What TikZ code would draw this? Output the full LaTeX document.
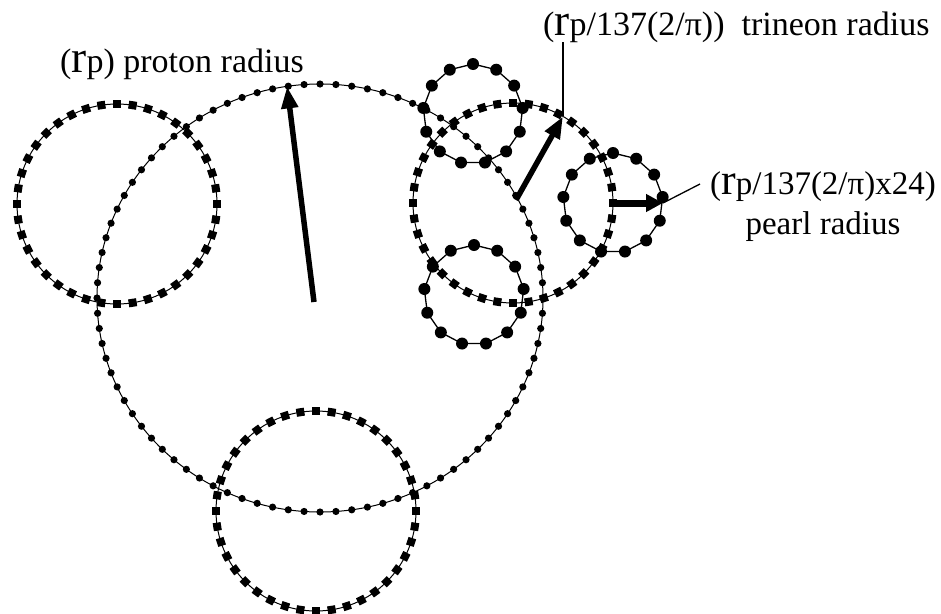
\documentclass[tikz,border=0pt]{standalone}
\usepackage{fontspec}
\setmainfont{Liberation Serif}
\usepackage{graphicx}
\usetikzlibrary{arrows.meta,calc}
\definecolor{ink}{HTML}{000000}
\tikzset{
  ringline/.style={draw=ink,line width=1pt},
  sqmark/.style={rectangle,fill=ink,minimum size=8pt,inner sep=0pt},
  radarr/.style={-{Triangle[length=22pt,width=16pt]},line width=5.5pt,draw=ink},
  leader/.style={draw=ink,line width=1.3pt},
  lbl/.style={inner sep=0pt,text=ink,font=\fontsize{34}{40}\selectfont},
}
\newcommand{\rp}{\scalebox{1.33}{r}p}
\newcommand{\squarering}[2]{%
  \coordinate (#1) at #2;
  \draw[ringline] (#1) circle (100pt);
  \foreach \k in {0,...,39}
    \node[sqmark,rotate=\k*9] (#1-\k) at ($(#1)+(\k*9:100pt)$) {};
}
\newcommand{\pearl}[2]{%
  \coordinate (#1) at #2;
  \draw[ringline,line width=1.3pt] ($(#1)+(90:50pt)$)
    \foreach \k in {1,...,12}{ -- ($(#1)+({90+360/13*\k}:50pt)$)} -- cycle;
  \foreach \k in {0,...,12}
    \fill[ink] ($(#1)+({90+360/13*\k}:50pt)$) circle (6pt);
}

\begin{document}
\begin{tikzpicture}[x=1pt,y=-1pt]
  \useasboundingbox (0,0) rectangle (941,613);

  % ---------------------------------------------------------------- trineons
  \squarering{left}{(117,204)}
  \squarering{bot}{(316,511)}
  \squarering{tri}{(513,203)}

  % ---------------------------------------------------------------- proton
  \coordinate (prot) at (320,298);
  \draw[ringline] (prot) ellipse [x radius=223pt,y radius=214pt];
  \foreach \k in {0,...,87}
    \fill[ink] ($(prot)+({360/88*\k}:223pt and 214pt)$) circle (3.6pt);

  % ---------------------------------------------------------------- pearls
  \pearl{ptop}{(473,114)}
  \pearl{pbot}{(474,295)}
  \pearl{pright}{(613,203)}

  % ---------------------------------------------------------------- radii
  \coordinate (protbase) at (314,302);
  \coordinate (prottip) at ($(prot)+(98.5:223pt and 214pt)$);
  \coordinate (tribase) at (516,200);
  \coordinate (tritip) at ($(tri)+(60:100pt)$);
  \coordinate (pearltip) at ($(pright)+(0:50pt)$);
  \draw[radarr] (protbase) -- (prottip);
  \draw[radarr] (tribase) -- (tritip);
  \draw[radarr,line width=7pt,-{Triangle[length=17pt,width=17pt]}] (pright) -- (pearltip);

  % labels
  \node[lbl,anchor=base west] (protlbl) at (60,72) {(\rp) proton radius};
  \node[lbl,anchor=base west] (trilbl) at (543,35) {(\rp/137(2/π))\ \ trineon radius};
  \node[lbl,align=center,font=\fontsize{33}{40}\selectfont] (pearllbl) at (823,207) {(\rp/137(2/π)x24)\\pearl radius};
  \coordinate (pearlend) at (700,184);
  \draw[leader] (tritip) -- (tritip |- trilbl.south);
  \draw[leader] (pearltip) -- (pearlend);
\end{tikzpicture}
\end{document}
